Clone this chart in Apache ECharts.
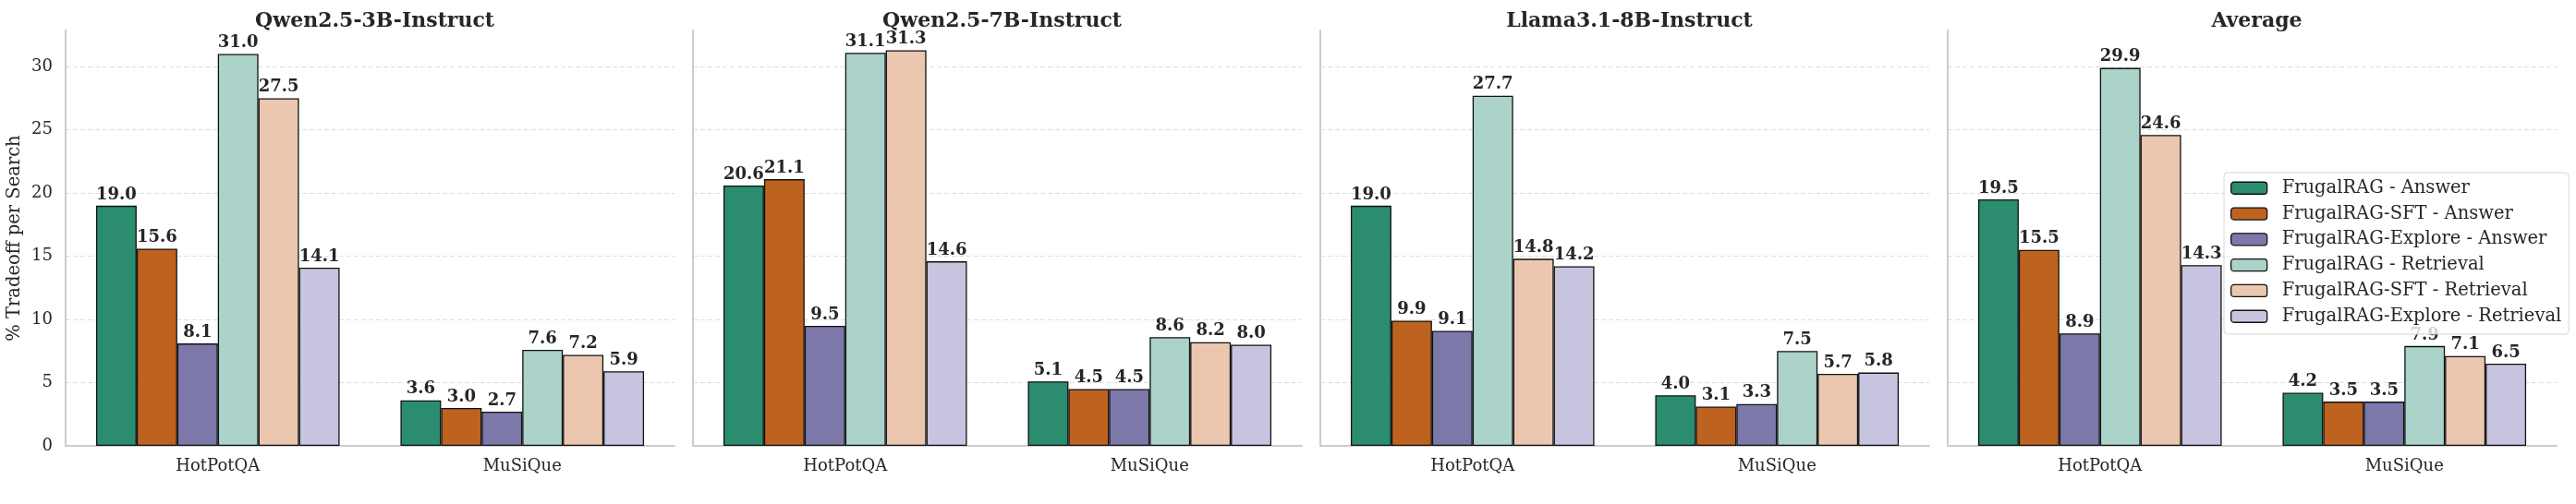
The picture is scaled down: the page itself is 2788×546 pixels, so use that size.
<!DOCTYPE html>
<html>
<head>
<meta charset="utf-8">
<script src="https://cdn.jsdelivr.net/npm/echarts@6/dist/echarts.min.js"></script>
<style>
html,body{margin:0;padding:0;background:#fff;}
#c{width:2788px;height:546px;}
</style>
</head>
<body>
<div id="c"></div>
<script>
const panels = ["Qwen2.5-3B-Instruct", "Qwen2.5-7B-Instruct", "Llama3.1-8B-Instruct", "Average"];
const categories = ["HotPotQA", "MuSiQue"];
const seriesNames = [
  "FrugalRAG - Answer",
  "FrugalRAG-SFT - Answer",
  "FrugalRAG-Explore - Answer",
  "FrugalRAG - Retrieval",
  "FrugalRAG-SFT - Retrieval",
  "FrugalRAG-Explore - Retrieval"
];
const colors = ["#2b8c6f", "#be6220", "#7d78aa", "#abd3c9", "#eac7ae", "#c7c4e0"];
// values per panel: one [HotPotQA, MuSiQue] pair per series
const qwen3b = [[19.0, 3.6], [15.6, 3.0], [8.1, 2.7], [31.0, 7.6], [27.5, 7.2], [14.1, 5.9]];
const qwen7b = [[20.6, 5.1], [21.1, 4.5], [9.5, 4.5], [31.1, 8.6], [31.3, 8.2], [14.6, 8.0]];
const llama8b = [[19.0, 4.0], [9.9, 3.1], [9.1, 3.3], [27.7, 7.5], [14.8, 5.7], [14.2, 5.8]];
const average = [[19.5, 4.2], [15.5, 3.5], [8.9, 3.5], [29.9, 7.9], [24.6, 7.1], [14.3, 6.5]];
const panelValues = [qwen3b, qwen7b, llama8b, average];
const yTicks = [0, 5, 10, 15, 20, 25, 30];
const yMax = 32.865;

const FONT = "DejaVu Serif";
const gridLeft0 = 71, gridW = 659, gridStep = 679, gridTop = 33, gridBottom = 63;

const grids = [], xAxes = [], yAxes = [], titles = [], series = [];
panels.forEach((p, i) => {
  const left = gridLeft0 + i * gridStep;
  grids.push({left: left, top: gridTop, width: gridW, bottom: gridBottom, containLabel: false});
  titles.push({
    text: p, left: left + gridW / 2, top: 7, textAlign: 'center',
    textStyle: {fontFamily: FONT, fontSize: 22, fontWeight: 'bold', color: '#262626'}
  });
  xAxes.push({
    type: 'category', gridIndex: i, data: categories,
    axisLine: {show: true, lineStyle: {color: '#cccccc', width: 2}},
    axisTick: {show: false},
    axisLabel: {fontFamily: FONT, fontSize: 18, color: '#262626', margin: 13},
    splitLine: {show: false}
  });
  yAxes.push({
    type: 'value', gridIndex: i, min: 0, max: yMax, interval: 5,
    name: i === 0 ? '% Tradeoff per Search' : '',
    nameLocation: 'middle', nameGap: 45, nameRotate: 90,
    nameTextStyle: {fontFamily: FONT, fontSize: 19.5, color: '#262626'},
    axisLine: {show: true, lineStyle: {color: '#cccccc', width: 2}},
    axisTick: {show: false},
    axisLabel: {
      show: i === 0, fontFamily: FONT, fontSize: 18, color: '#262626', margin: 14,
      showMaxLabel: false,
      formatter: v => (yTicks.indexOf(v) >= 0 ? String(v) : '')
    },
    splitLine: {show: true, showMinLine: false, showMaxLine: false,
      lineStyle: {color: '#dedede', width: 1, type: [5, 3]}}
  });
  seriesNames.forEach((name, s) => {
    series.push({
      name: name, type: 'bar', xAxisIndex: i, yAxisIndex: i,
      data: panelValues[i][s],
      barGap: '0%', barCategoryGap: '20%',
      itemStyle: {color: colors[s], borderColor: '#111', borderWidth: 1.3},
      label: {
        show: true, position: 'top', distance: 3,
        fontFamily: FONT, fontSize: 18, fontWeight: 'bold', color: '#262626',
        formatter: d => Number(d.value).toFixed(1)
      },
      emphasis: {disabled: true},
      animation: false
    });
  });
});

const chart = echarts.init(document.getElementById('c'), null, {renderer: 'canvas'});
chart.setOption({
  backgroundColor: '#ffffff',
  animation: false,
  color: colors,
  title: titles,
  grid: grids,
  xAxis: xAxes,
  yAxis: yAxes,
  legend: {
    data: seriesNames,
    orient: 'vertical',
    left: 2407, top: 187,
    backgroundColor: 'rgba(255,255,255,0.8)',
    borderColor: '#d6d6d6', borderWidth: 1, borderRadius: 4,
    padding: [6.75, 8, 9.25, 7],
    itemWidth: 39, itemHeight: 13, itemGap: 7.8,
    itemStyle: {borderColor: '#111', borderWidth: 1.3},
    textStyle: {fontFamily: FONT, fontSize: 19.5, color: '#262626', lineHeight: 19.5, padding: [0, 0, 0, 11]},
    selectedMode: false
  },
  series: series
});
</script>
</body>
</html>
